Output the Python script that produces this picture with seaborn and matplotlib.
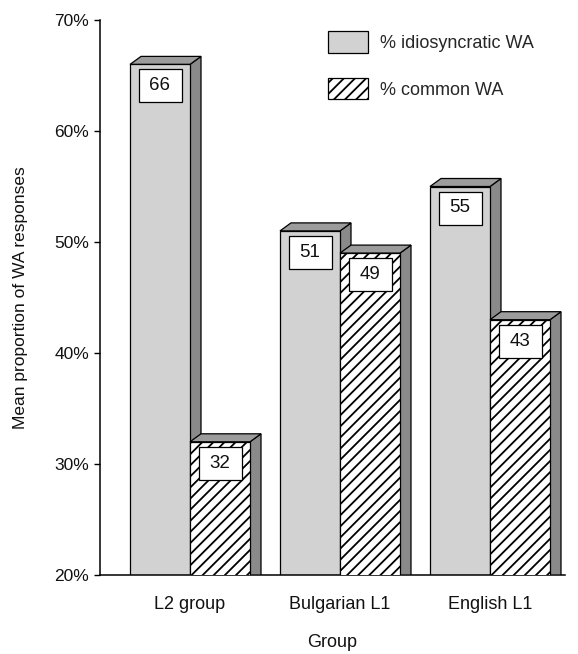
import matplotlib
matplotlib.use("Agg")
import matplotlib.pyplot as plt
from matplotlib.patches import Polygon, Rectangle, Patch
from matplotlib.ticker import FuncFormatter
import pandas as pd
import seaborn as sns

# Mean proportion (%) of word-association responses per group
groups = ["L2 group", "Bulgarian L1", "English L1"]
response_types = ["% idiosyncratic WA", "% common WA"]
idiosyncratic = [66, 51, 55]
common = [32, 49, 43]
y_ticks = [20, 30, 40, 50, 60, 70]

df = pd.DataFrame({
    "Group": groups * 2,
    "Type": [response_types[0]] * 3 + [response_types[1]] * 3,
    "Value": idiosyncratic + common,
})

sns.set_theme(style="ticks")
plt.rcParams["font.family"] = ["Liberation Sans", "DejaVu Sans"]
plt.rcParams["hatch.linewidth"] = 1.3
plt.rcParams["hatch.color"] = "black"
plt.rcParams["axes.labelcolor"] = "#111111"

W, H = 578, 654
fig = plt.figure(figsize=(W / 100, H / 100), dpi=100)
ax = fig.add_axes([100 / W, 1 - 575 / H, 465 / W, 555 / H])

front_colors = {response_types[0]: "#d2d2d2", response_types[1]: "white"}
sns.barplot(data=df, x="Group", y="Value", hue="Type", hue_order=response_types,
            palette=front_colors, edgecolor="black", linewidth=0.9,
            width=0.8, legend=False, ax=ax, saturation=1)

ax.set_xlim(-0.6, 2.5)
ax.set_ylim(20, 70)

# pixel-to-data scale factors for the 3-D extrusion
ax_w_px = 465
ax_h_px = 555
sx = ax_w_px / (2.5 - (-0.6))
sy = ax_h_px / (70 - 20)
dx = 11 / sx
dy = 8 / sy

side_colors = ["#8a8a8a", "#8a8a8a"]
top_colors = ["#9c9c9c", "#9c9c9c"]

for k, container in enumerate(ax.containers):
    base_z = 2 + k
    for bar in container.patches:
        x0 = bar.get_x()
        x1 = x0 + bar.get_width()
        top = bar.get_y() + bar.get_height()
        if k == 1:
            bar.set_hatch("///")
        bar.set_zorder(base_z + 0.2)
        side = Polygon([(x1, 20), (x1, top), (x1 + dx, top + dy), (x1 + dx, 20)],
                       closed=True, facecolor=side_colors[k], edgecolor="black",
                       linewidth=0.9, zorder=base_z)
        lid = Polygon([(x0, top), (x0 + dx, top + dy), (x1 + dx, top + dy), (x1, top)],
                      closed=True, facecolor=top_colors[k], edgecolor="black",
                      linewidth=0.9, zorder=base_z + 0.1)
        ax.add_patch(side)
        ax.add_patch(lid)

        # value box near the top of the front face
        bw = 43 / sx
        bh = 33 / sy
        cx = (x0 + x1) / 2
        btop = top - 5 / sy
        ax.add_patch(Rectangle((cx - bw / 2, btop - bh), bw, bh, facecolor="white",
                               edgecolor="black", linewidth=0.9, zorder=base_z + 0.5))
        ax.text(cx, btop - bh / 2, f"{top:.0f}", ha="center", va="center",
                fontsize=13.5, zorder=base_z + 0.6, color="#111111")

ax.set_yticks(y_ticks)
ax.yaxis.set_major_formatter(FuncFormatter(lambda v, p: f"{v:.0f}%"))
ax.tick_params(axis="y", length=4, width=1, pad=4, labelsize=12.5, colors="black",
               labelcolor="#111111")
ax.tick_params(axis="x", length=0, pad=15, labelsize=13, labelcolor="#111111")
for s in ["top", "right"]:
    ax.spines[s].set_visible(False)
for s in ["left", "bottom"]:
    ax.spines[s].set_linewidth(1.1)
    ax.spines[s].set_color("black")

ax.set_xlabel("Group", fontsize=13, labelpad=15)
ax.set_ylabel("Mean proportion of WA responses", fontsize=12.5, labelpad=19)

handles = [Patch(facecolor="#d2d2d2", edgecolor="black", linewidth=0.9),
           Patch(facecolor="white", edgecolor="black", linewidth=0.9, hatch="///")]
ax.legend(handles, response_types, loc="upper left", bbox_to_anchor=(0.49, 0.98),
          frameon=False, borderpad=0, borderaxespad=0, fontsize=13,
          handlelength=2.2, handleheight=1.45, labelspacing=1.4, handletextpad=0.7)

fig.savefig("out.png", dpi=100)
